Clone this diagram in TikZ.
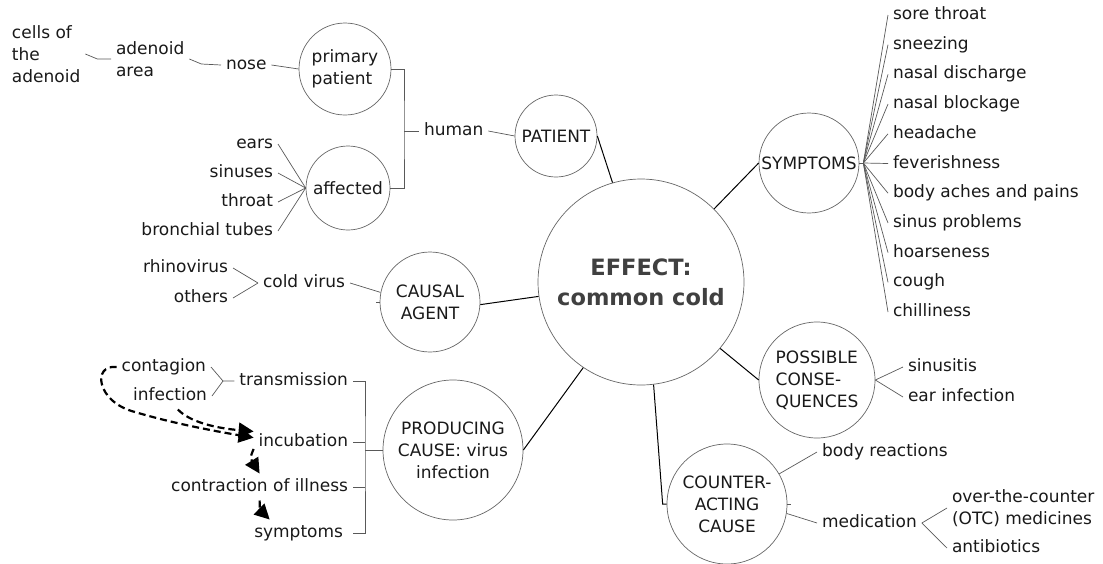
\documentclass[tikz,border=0pt]{standalone}
\usepackage{fontspec}
\setmainfont{DejaVu Sans}
\usetikzlibrary{arrows.meta}

\begin{document}
\begin{tikzpicture}[x=1pt,y=-1pt,
	every node/.style={font=\fontsize{17}{22}\selectfont, text=black!90},
	bubble/.style={circle, draw=black!60, line width=0.7pt, inner sep=0pt, align=center},
	leaf/.style={inner sep=0pt, outer sep=5pt, text height=13pt, text depth=4pt},
	stack/.style={inner sep=0pt, outer sep=5pt, align=left},
	twig/.style={draw=black!65, line width=0.7pt},
	spoke/.style={draw=black, line width=1pt},
	flow/.style={line width=2.2pt, dash pattern=on 7pt off 4pt, -{Triangle[length=15pt,width=15pt]}}]
	%% page size
	\useasboundingbox (0,0) rectangle (1103,563);

	%% the hub and its six branches
	\node[bubble, minimum size=206pt, font=\fontsize{22.5}{30}\selectfont\bfseries, text=black!75] (effect) at (641,282) {EFFECT:\\common cold};
	\node[bubble, minimum size=82pt] (patient) at (556,136) {PATIENT};
	\node[bubble, minimum size=100pt] (symptoms) at (809,163) {SYMPTOMS};
	\node[bubble, minimum size=100pt] (causal) at (430,302) {CAUSAL\\AGENT};
	\node[bubble, minimum size=140pt] (producing) at (453,450) {PRODUCING\\CAUSE: virus\\infection};
	\node[bubble, minimum size=116pt, align=left] (possible) at (817,380) {POSSIBLE\\CONSE-\\QUENCES};
	\node[bubble, minimum size=120pt] (counter) at (727,504) {COUNTER-\\ACTING\\CAUSE};

	\draw[spoke] (effect.106) -- (patient.east);
	\draw[spoke] (effect.45) -- (symptoms.west);
	\draw[spoke] (effect.188) -- (causal.357);
	\draw[spoke] (effect.320) -- (possible.west);
	\draw[spoke] (effect.236) -- (producing.east);
	\draw[spoke] (effect.277) -- ([xshift=-4pt]counter.west) -- (counter.west);

	%% patient
	\node[bubble, minimum size=92pt, align=left] (primary) at (345,69) {primary\\patient};
	\node[bubble, minimum size=84pt] (affected) at (348,188) {affected};
	\node[leaf, anchor=west] (human) at (419,131) {human};
	\node[leaf, anchor=west] (nose) at (221,65) {nose};
	\node[stack, anchor=west] (area) at (111,59) {adenoid\\area};
	\node[stack, anchor=west] (cells) at (7,54) {cells of\\the\\adenoid};
	\foreach \t/\y [count=\i] in {ears/144, sinuses/173, throat/202, bronchial tubes/231}{
		\node[leaf, anchor=east] (a\i) at (278,\y) {\t};
		\draw[twig] (a\i.east) -- (affected.west);
	}

	\coordinate (hb) at (404,131); % bracket joint
	\draw[twig] (primary.east) -| (hb) |- (affected.east);
	\draw[twig] (hb) -- (human.west);
	\draw[twig] (human.east) -- (patient.west);
	\draw[twig] (nose.east) -- (primary.west);
	\draw[twig] (area.east) -- ++(12,5) -- (nose.west);
	\draw[twig] (cells.east) -- ++(12,5) -- (area.west);

	%% causal agent
	\node[leaf, anchor=west] (cold) at (258,283) {cold virus};
	\node[leaf, anchor=east] (rhino) at (233,268) {rhinovirus};
	\node[leaf, anchor=east] (others) at (233,298) {others};
	\draw[twig] (rhino.east) -- (cold.west);
	\draw[twig] (others.east) -- (cold.west);
	\draw[twig] (cold.east) -- (causal.169);
	\draw[twig] (causal.west) -- ++(-4,0);

	%% producing cause
	\node[leaf, anchor=east] (transm) at (353,381) {transmission};
	\node[leaf, anchor=east] (incub) at (353,442) {incubation};
	\node[leaf, anchor=east] (contr) at (353,487) {contraction of illness};
	\node[leaf, anchor=east] (sympt) at (348,533) {symptoms};
	\node[leaf, anchor=east] (contagion) at (211,367) {contagion};
	\node[leaf, anchor=east] (infection) at (212,396) {infection};

	\coordinate (pb) at (365,450); % bracket joint
	\draw[twig] (transm.east) -| (pb) |- ([xshift=5pt]sympt.east);
	\draw[twig] (incub.east) -- (incub.east -| pb);
	\draw[twig] (contr.east) -- (contr.east -| pb);
	\draw[twig] (pb) -- (producing.west);
	\coordinate (tb) at (223,381);
	\draw[twig] (contagion.east) -- (tb) -- (transm.west);
	\draw[twig] (infection.east) -- (tb);

	% course of the illness
	\draw[flow] (contagion.west) .. controls (92,364) and (96,402) .. (135,412) .. controls (175,424) and (220,432) .. (incub.175);
	\draw[flow] (infection.300) .. controls (190,422) and (215,428) .. (incub.168);
	\draw[flow] (incub.188) .. controls (250,458) .. (contr.north);
	\draw[flow] (contr.south) .. controls (260,510) .. (sympt.155);

	%% symptoms
	\coordinate (sf) at ([xshift=4pt]symptoms.east);
	\draw[twig] (symptoms.east) -- (sf);
	\foreach \t [count=\i] in {sore throat, sneezing, nasal discharge, nasal blockage, headache, feverishness, body aches and pains, sinus problems, hoarseness, cough, chilliness}{
		\node[leaf, anchor=west] (s\i) at (888,{15+29.7*(\i-1)}) {\t};
		\draw[twig] (sf) -- (s\i.west);
	}

	%% possible consequences
	\node[leaf, anchor=west] (sinusitis) at (903,367) {sinusitis};
	\node[leaf, anchor=west] (ear) at (903,397) {ear infection};
	\draw[twig] (possible.east) -- (sinusitis.west);
	\draw[twig] (possible.east) -- (ear.west);

	%% counteracting cause
	\node[leaf, anchor=west] (body) at (817,452) {body reactions};
	\node[leaf, anchor=west] (medication) at (817,523) {medication};
	\node[stack, anchor=west] (otc) at (947,508) {over-the-counter\\(OTC) medicines};
	\node[leaf, anchor=west] (anti) at (947,548) {antibiotics};
	\draw[twig] (counter.30) -- (body.west);
	\draw[twig] (counter.351) -- (medication.west);
	\draw[twig] (counter.east) -- ++(4,0);
	\draw[twig] (medication.east) -- (otc.west);
	\draw[twig] (medication.east) -- (anti.west);
\end{tikzpicture}
\end{document}
